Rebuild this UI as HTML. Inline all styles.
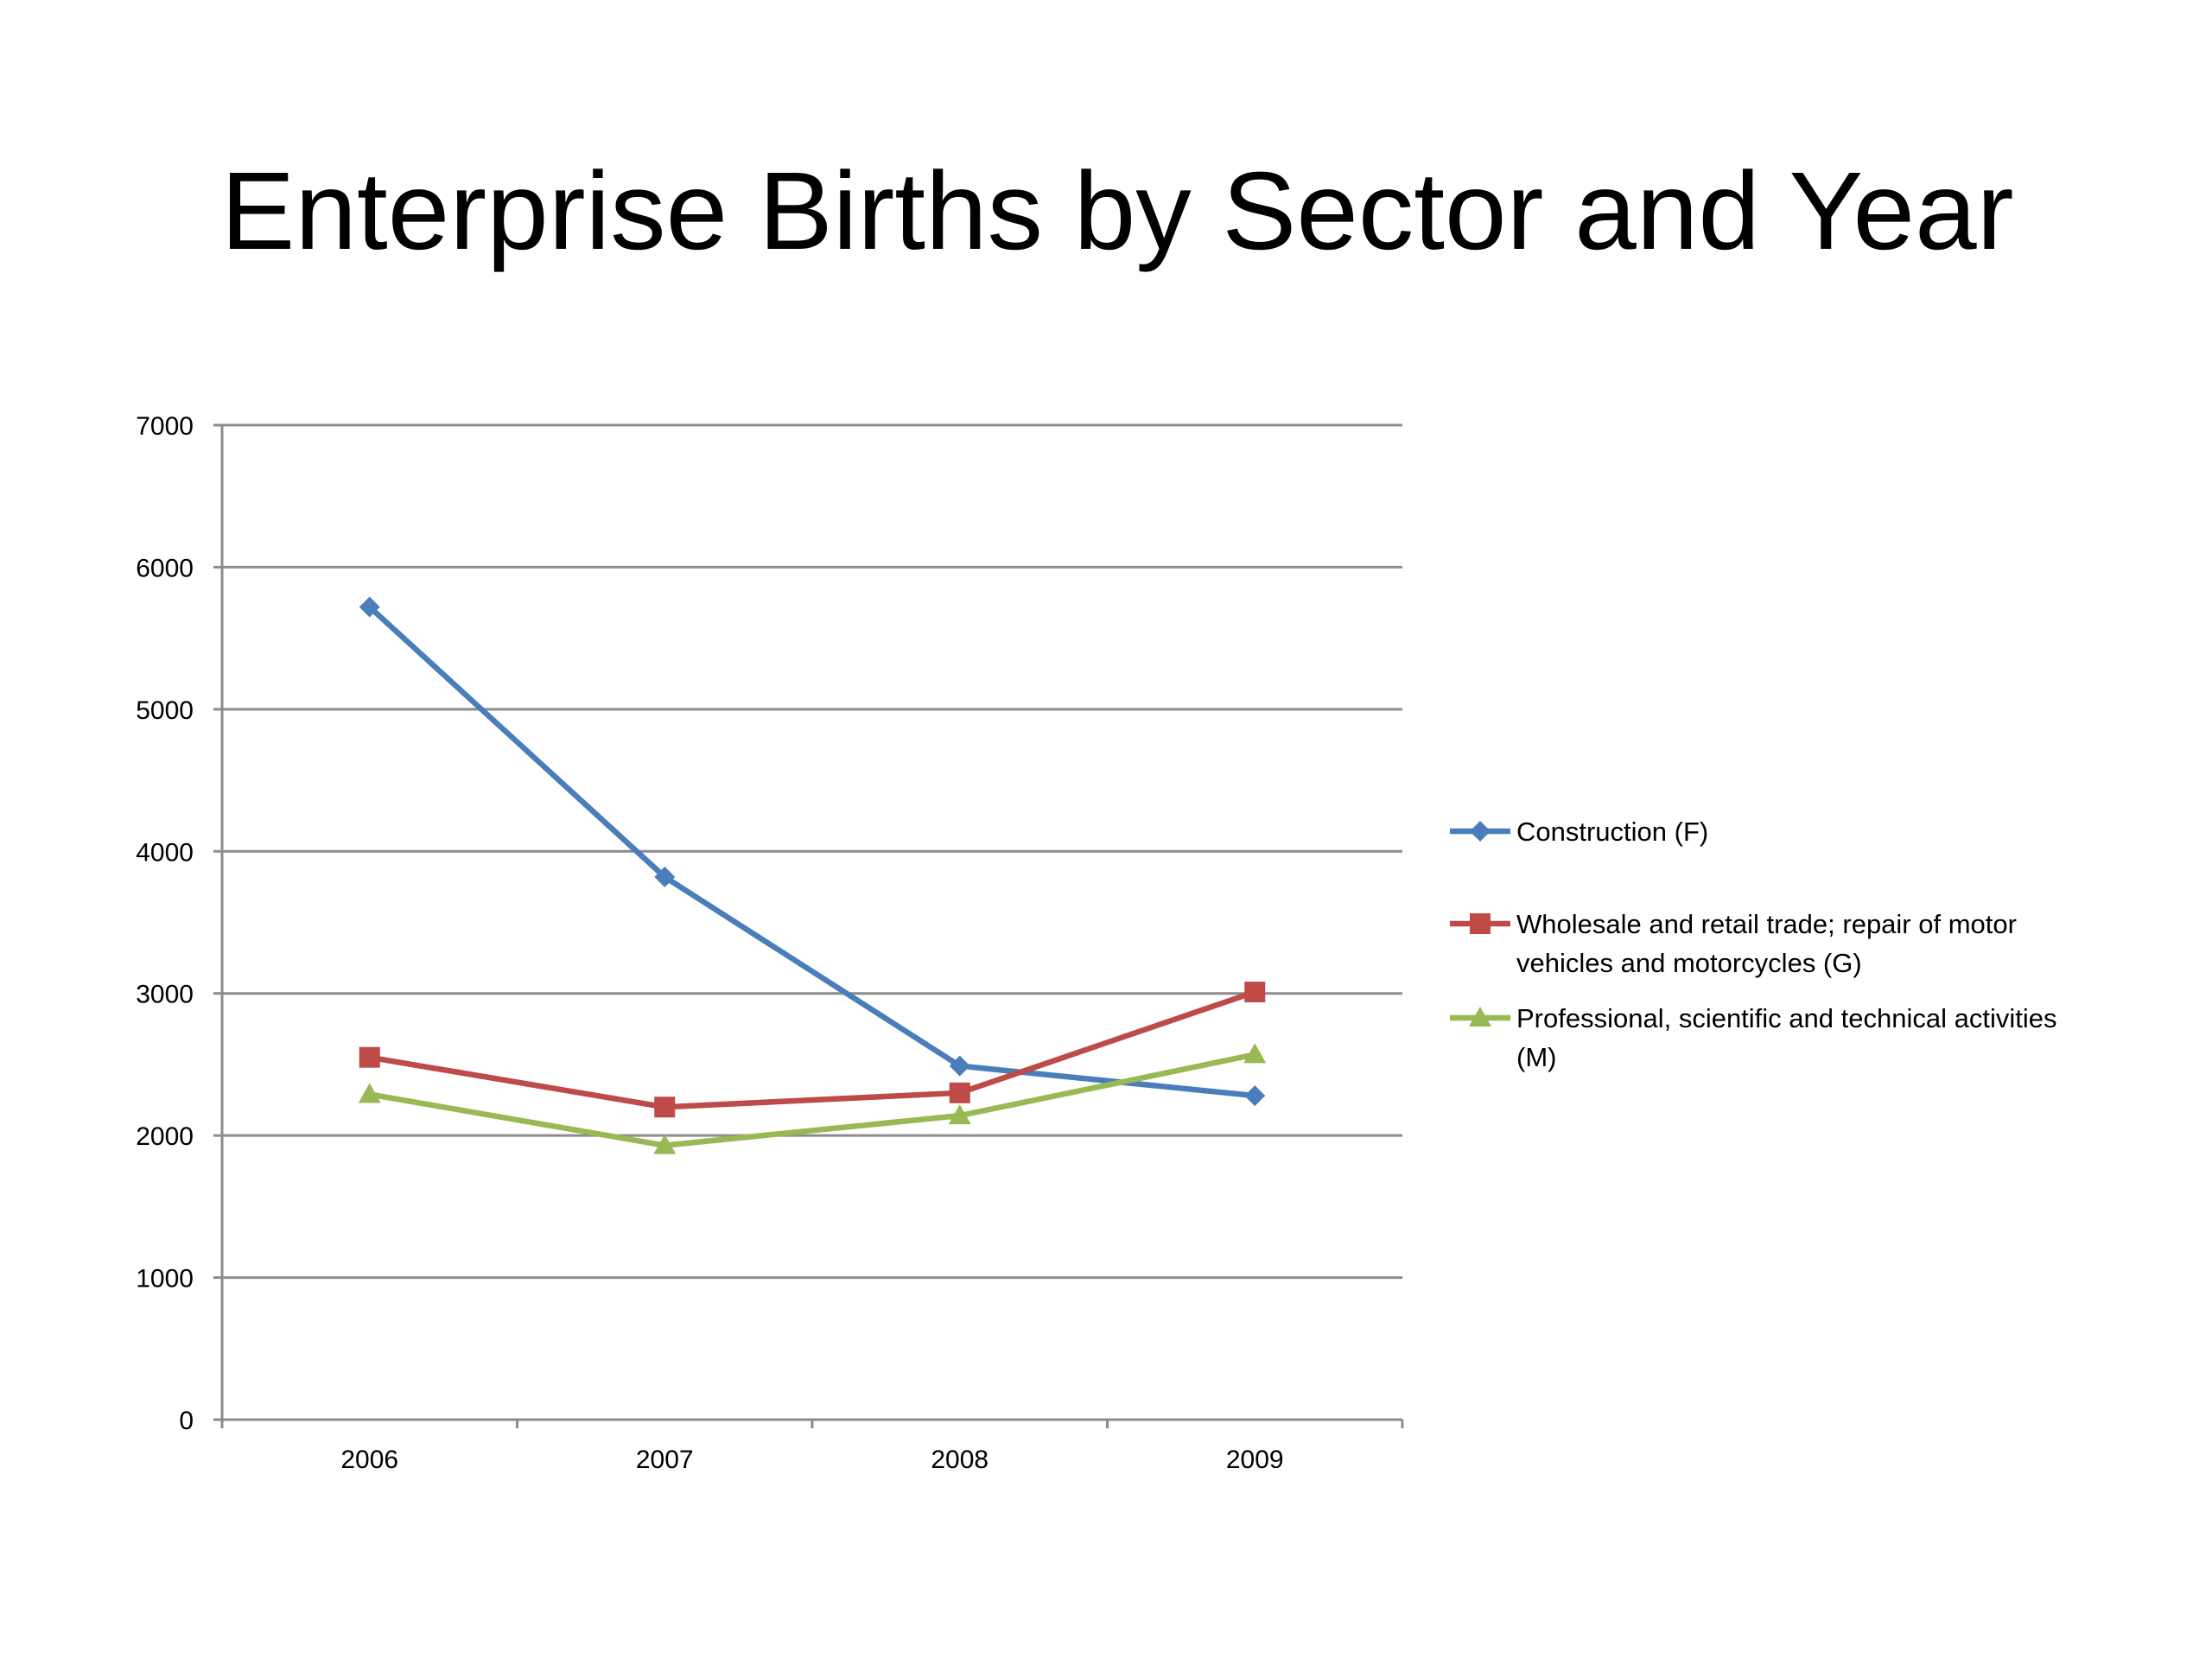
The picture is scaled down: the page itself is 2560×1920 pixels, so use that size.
<!DOCTYPE html>
<html><head><meta charset="utf-8"><style>
html,body{margin:0;padding:0;background:#fff;}
svg{display:block;font-family:"Liberation Sans",sans-serif;}
</style></head><body>
<svg id="chart" width="2560" height="1920" viewBox="0 0 2560 1920" xmlns="http://www.w3.org/2000/svg">
<rect width="2560" height="1920" fill="#fff"/>
<text x="1293" y="288" font-size="128" text-anchor="middle" textLength="2075" lengthAdjust="spacingAndGlyphs" fill="#000">Enterprise Births by Sector and Year</text>
<g id="grid"></g><g id="axes"></g><g id="series"></g><g id="legend"></g>
</svg>
<script>
const categories=["2006","2007","2008","2009"];
const construction=[5720,3820,2490,2280];
const wholesale=[2550,2200,2300,3010];
const professional=[2290,1930,2140,2570];
const yTicks=[0,1000,2000,3000,4000,5000,6000,7000];
const seriesNames=["Construction (F)","Wholesale and retail trade; repair of motor|vehicles and motorcycles (G)","Professional, scientific and technical activities|(M)"];
const NS="http://www.w3.org/2000/svg";
const L=257,R=1623,T=492,B=1643,YMAX=7000;
const bw=(R-L)/categories.length;
function xs(i){return L+bw*(i+0.5);}
function ys(v){return B-(v/YMAX)*(B-T);}
function mk(tag,attrs,parent){const e=document.createElementNS(NS,tag);for(const k in attrs)e.setAttribute(k,attrs[k]);parent.appendChild(e);return e;}
const grid=document.getElementById('grid'),axes=document.getElementById('axes'),ser=document.getElementById('series'),leg=document.getElementById('legend');
yTicks.forEach(v=>{
  if(v>0){const g=mk('line',{x1:L,x2:R,y1:ys(v),y2:ys(v),stroke:'#8c8c8c','stroke-width':3},grid);
  
  }
  mk('line',{x1:L-10,x2:L,y1:ys(v),y2:ys(v),stroke:'#8c8c8c','stroke-width':3},axes);
  const t=mk('text',{x:224,y:ys(v)+11,'font-size':30,'text-anchor':'end',fill:'#000'},axes);
  t.textContent=v;
  
  
});
const ya=mk('line',{x1:L,x2:L,y1:T,y2:B,stroke:'#8c8c8c','stroke-width':3},axes);


const xa=mk('line',{x1:L,x2:R,y1:B,y2:B,stroke:'#8c8c8c','stroke-width':3},axes);


for(let i=0;i<=categories.length;i++)mk('line',{x1:L+bw*i,x2:L+bw*i,y1:B,y2:B+10,stroke:'#8c8c8c','stroke-width':3},axes);
categories.forEach((c,i)=>{
  const t=mk('text',{x:xs(i),y:1699,'font-size':30,'text-anchor':'middle',fill:'#000'},axes);
  t.textContent=c;
  
  
});
function marker(type,x,y,color,parent){
  let e;
  if(type==='diamond')e=mk('polygon',{points:`${x},${y-12} ${x+12},${y} ${x},${y+12} ${x-12},${y}`,fill:color},parent);
  else if(type==='square')e=mk('rect',{x:x-12,y:y-12,width:24,height:24,fill:color},parent);
  else e=mk('polygon',{points:`${x},${y-13} ${x+13},${y+10} ${x-13},${y+10}`,fill:color},parent);
  return e;
}
const defs=[[construction,'#4a7ebb','diamond','construction'],[wholesale,'#be4b48','square','wholesale'],[professional,'#98b954','triangle','professional']];
defs.forEach(([vals,col,m,nm])=>{
  const p=mk('polyline',{points:vals.map((v,i)=>xs(i)+','+ys(v)).join(' '),fill:'none',stroke:col,'stroke-width':6.5,'stroke-linejoin':'round'},ser);
  
  
  vals.forEach((v,i)=>{const e=marker(m,xs(i),ys(v),col,ser);
    
    });
});
const legY=[962,1069,1178];
defs.forEach(([vals,col,m,nm],k)=>{
  const g=mk('g',{},leg);
  
  
  mk('line',{x1:1678,x2:1748,y1:legY[k],y2:legY[k],stroke:col,'stroke-width':6.5},g);
  marker(m,1713,legY[k],col,g);
  seriesNames[k].split('|').forEach((ln,j)=>{
    const t=mk('text',{x:1755,y:legY[k]+11+j*45,'font-size':31,fill:'#000'},g);
    t.textContent=ln;
  });
});
</script>
</body></html>
